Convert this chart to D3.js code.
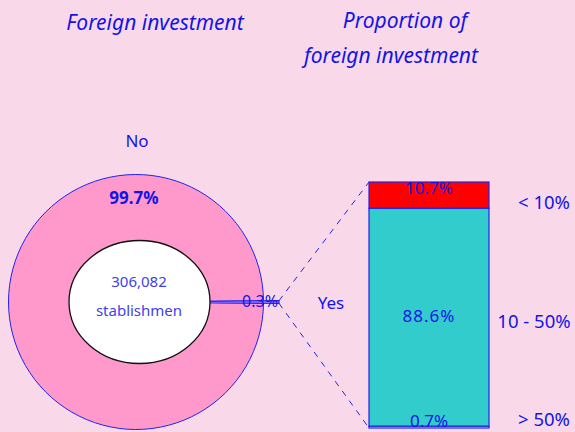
<!DOCTYPE html>
<html>
<head>
<meta charset="utf-8">
<script src="https://cdn.jsdelivr.net/npm/d3@7/dist/d3.min.js"></script>
<style>
  html, body { margin: 0; padding: 0; background: #F9D9E9; }
  svg { display: block; }
  text { font-family: "Noto Sans", "Open Sans", sans-serif; fill: #1414E6; }
</style>
</head>
<body>
<svg id="chart" width="575" height="432"></svg>
<script>
// Share of establishments with foreign investment
const pieLabels = ["No", "Yes"];
const pieValues = [99.7, 0.3];
const totalLabel = ["306,082", "stablishmen"];

// Breakdown of the foreign-invested establishments by foreign share
const barCategories = ["< 10%", "10 - 50%", "> 50%"];
const barValues = [10.7, 88.6, 0.7];
const barColors = ["#FF0000", "#33CCCC", "#FFFF00"];

const titles = {
  left: ["Foreign investment"],
  right: ["Proportion of", "foreign investment"]
};

const svg = d3.select("#chart");

// ---- titles ----
svg.append("text").attr("x", 155).attr("y", 30)
  .attr("text-anchor", "middle").attr("font-style", "italic")
  .attr("font-size", 21).text(titles.left[0]);
const rightTitleX = [405, 391];
titles.right.forEach((t, i) => {
  svg.append("text").attr("x", rightTitleX[i]).attr("y", 28 + i * 35)
    .attr("text-anchor", "middle").attr("font-style", "italic")
    .attr("font-size", 21).text(t);
});

// ---- pie ----
const cx = 136, cy = 302, R = 127.5, Rout = 143;
const yesAngle = 2 * Math.PI * pieValues[1] / d3.sum(pieValues);
const pie = d3.pie().sort(null)
  .startAngle(Math.PI / 2 + yesAngle / 2)
  .endAngle(Math.PI / 2 + yesAngle / 2 + 2 * Math.PI);
const arcs = pie(pieValues);

const g = svg.append("g").attr("transform", `translate(${cx},${cy})`);
g.append("path")
  .attr("d", d3.arc().innerRadius(0).outerRadius(R)(arcs[0]))
  .attr("fill", "#FF99CC").attr("stroke", "#2222EE").attr("stroke-width", 1);
g.append("path")
  .attr("d", d3.arc().innerRadius(0).outerRadius(Rout)(arcs[1]))
  .attr("fill", "#C8A0FF").attr("stroke", "#2222EE").attr("stroke-width", 1.2);

// centre hole
svg.append("ellipse").attr("cx", 139.5).attr("cy", 302)
  .attr("rx", 70.5).attr("ry", 61.5)
  .attr("fill", "#FFFFFF").attr("stroke", "#111").attr("stroke-width", 1.3);
svg.append("text").attr("x", 139).attr("y", 287).attr("text-anchor", "middle")
  .attr("font-size", 15).style("fill", "#4040F0").text(totalLabel[0]);
svg.append("text").attr("x", 139).attr("y", 316).attr("text-anchor", "middle")
  .attr("font-size", 15).style("fill", "#4040F0").text(totalLabel[1]);

// pie labels
svg.append("text").attr("x", 137).attr("y", 147).attr("text-anchor", "middle")
  .attr("font-size", 17).text(pieLabels[0]);
svg.append("text").attr("x", 134).attr("y", 204).attr("text-anchor", "middle")
  .attr("font-size", 17).attr("font-weight", "bold").text(pieValues[0] + "%");
svg.append("text").attr("x", 278).attr("y", 307).attr("text-anchor", "end")
  .attr("font-size", 16).text(pieValues[1] + "%");
svg.append("text").attr("x", 331).attr("y", 309).attr("text-anchor", "middle")
  .attr("font-size", 17).text(pieLabels[1]);

// ---- stacked bar ----
const barX = 369, barW = 120;
const y = d3.scaleLinear().domain([0, d3.sum(barValues)]).range([182, 428]);
let acc = 0;
const segs = barValues.map((v, i) => {
  const s = { v, i, y0: acc, y1: acc + v };
  acc += v;
  return s;
});
svg.selectAll("rect.seg").data(segs).join("rect").attr("class", "seg")
  .attr("x", barX).attr("width", barW)
  .attr("y", d => y(d.y0)).attr("height", d => y(d.y1) - y(d.y0))
  .attr("fill", d => barColors[d.i])
  .attr("stroke", "#2222EE").attr("stroke-width", 1.2);

const segLabelY = [194, 322, 427];
svg.selectAll("text.segv").data(segs).join("text").attr("class", "segv")
  .attr("x", barX + barW / 2).attr("y", (d, i) => segLabelY[i])
  .attr("text-anchor", "middle").attr("font-size", 17)
  .attr("letter-spacing", (d, i) => i === 1 ? 1 : 0)
  .text(d => d.v + "%");

const catPos = [[544, 209], [534, 328], [544, 426]];
svg.selectAll("text.cat").data(barCategories).join("text").attr("class", "cat")
  .attr("x", (d, i) => catPos[i][0]).attr("y", (d, i) => catPos[i][1])
  .attr("text-anchor", "middle").attr("font-size", 18.5)
  .text(d => d);

// ---- connectors from the exploded slice to the bar ----
const pt = (a, r) => [cx + r * Math.sin(a), cy - r * Math.cos(a)];
const sliceTop = pt(arcs[1].startAngle, Rout);
const sliceBot = pt(arcs[1].endAngle, Rout);
[[sliceTop, [barX, y(0)]], [sliceBot, [barX, y(d3.sum(barValues))]]].forEach(([a, b]) => {
  svg.append("line").attr("x1", a[0]).attr("y1", a[1])
    .attr("x2", b[0]).attr("y2", b[1])
    .attr("stroke", "#2222EE").attr("stroke-width", 1)
    .attr("stroke-dasharray", "6,6");
});
</script>
</body>
</html>
